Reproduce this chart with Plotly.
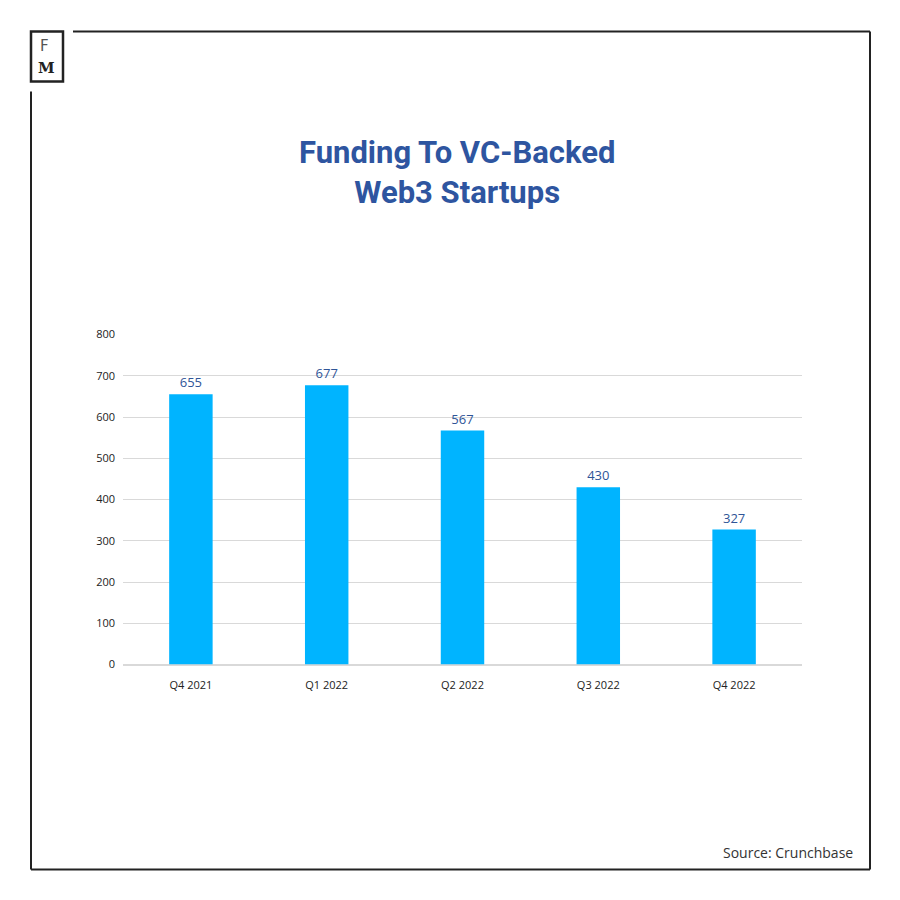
import plotly.graph_objects as go

categories = ["Q4 2021", "Q1 2022", "Q2 2022", "Q3 2022", "Q4 2022"]
funding = [655, 677, 567, 430, 327]
y_ticks = [0, 100, 200, 300, 400, 500, 600, 700, 800]
title_text = "Funding To VC-Backed<br>Web3 Startups"
source_text = "Source: Crunchbase"

W = H = 900
def px(x):
    return x / W
def py(y):
    # vertical placement compensated for the render's observed offset/scale
    return 1 - (y - 7.5) / 885.0

fig = go.Figure()
fig.add_trace(go.Bar(
    x=categories, y=funding,
    text=[str(v) for v in funding], textposition="outside",
    textfont=dict(family="Open Sans", size=13, color="#2f5597"),
    marker=dict(color="#00b4ff", line=dict(width=0)),
    cliponaxis=False, width=0.32,
))

line_col = "#222222"
shapes = [
    dict(type="line", xref="paper", yref="paper", x0=px(73), x1=px(870), y0=py(31), y1=py(31), line=dict(color=line_col, width=2)),
    dict(type="line", xref="paper", yref="paper", x0=px(870), x1=px(870), y0=py(31), y1=py(869), line=dict(color=line_col, width=2)),
    dict(type="line", xref="paper", yref="paper", x0=px(31), x1=px(870), y0=py(869), y1=py(869), line=dict(color=line_col, width=2)),
    dict(type="line", xref="paper", yref="paper", x0=px(31), x1=px(31), y0=py(91), y1=py(869), line=dict(color=line_col, width=2)),
    dict(type="rect", xref="paper", yref="paper", x0=px(31), x1=px(63), y0=py(31), y1=py(81), line=dict(color=line_col, width=2.5)),
]

annotations = [
    dict(text="F", x=px(44), y=py(46), xref="paper", yref="paper", showarrow=False,
         font=dict(family="DejaVu Sans", size=15, color="#555"), xanchor="center", yanchor="middle"),
    dict(text="<b>M</b>", x=px(46), y=py(67), xref="paper", yref="paper", showarrow=False,
         font=dict(family="DejaVu Serif", size=15, color="#222"), xanchor="center", yanchor="middle"),
    dict(text="<b>%s</b>" % title_text, x=px(457), y=py(172), xref="paper", yref="paper",
         showarrow=False, font=dict(family="Roboto", size=31, color="#2e55a0"),
         xanchor="center", yanchor="middle", align="center"),
    dict(text=source_text, x=px(855), y=py(852), xref="paper", yref="paper", showarrow=False,
         font=dict(family="Open Sans", size=14, color="#333"), xanchor="right", yanchor="middle"),
]

fig.update_layout(
    width=W, height=H, margin=dict(l=0, r=0, t=0, b=0),
    paper_bgcolor="white", plot_bgcolor="white",
    showlegend=False, shapes=shapes, annotations=annotations,
    xaxis=dict(domain=[px(123), px(802)], showgrid=False, showline=False, ticks="",
               tickfont=dict(family="Open Sans", size=11, color="#222"), ticklabelstandoff=12),
    yaxis=dict(domain=[py(664), py(334)], range=[0, 800], tickvals=y_ticks,
               showgrid=True, gridcolor="#d9d9d9", gridwidth=1, zeroline=True, zerolinecolor="#d9d9d9",
               showline=False, ticks="", tickfont=dict(family="Open Sans", size=11, color="#222"),
               ticklabelstandoff=7),
)

fig.write_html("out.html", config={"displayModeBar": False},
               post_script="document.body.style.margin='0';document.body.style.overflow='hidden';")
